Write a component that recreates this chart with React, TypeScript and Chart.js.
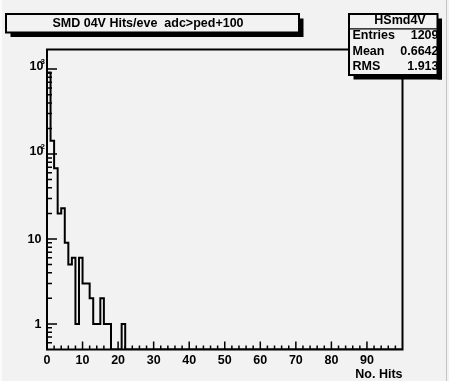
import React, { useEffect, useRef } from "react";
import { Chart, registerables } from "chart.js";

Chart.register(...registerables);

// ---- data ----
const TITLE = "SMD 04V Hits/eve  adc>ped+100";
const HIST_NAME = "HSmd4V";
const STAT_LABELS = ["Entries", "Mean", "RMS"];
const STAT_VALUES = ["1209", "0.6642", "1.913"];
const X_TITLE = "No. Hits";

// bin contents of bins [k, k+1), k = 0..21 ; all higher bins are empty
const HITS_COUNTS = [913, 143, 68, 20, 23, 9, 5, 6, 1, 6, 3, 3, 2, 1, 1, 2, 1, 1, 0, 0, 0, 1];
const BIN_WIDTH = 1;
const X_MIN = 0;
const X_MAX = 100;
const Y_MIN = 0.5;
const Y_MAX = 1700;

const X_TICK_VALUES = [0, 10, 20, 30, 40, 50, 60, 70, 80, 90];
const X_TICK_LABELS = ["0", "10", "20", "30", "40", "50", "60", "70", "80", "90"];
const X_MINOR_STEP = 2;
const Y_TICK_VALUES = [1, 10, 100, 1000];
const Y_TICK_BASES = ["1", "10", "10", "10"];
const Y_TICK_EXPONENTS = ["", "", "2", "3"];

// ---- style ----
const BG = "rgb(242,242,242)";
const FONT = '"Liberation Sans", Arial, Helvetica, sans-serif';
const FS = 12.5;

const rootPlugin = {
  id: "rootStyle",
  beforeDraw(chart: any) {
    const ctx = chart.ctx;
    ctx.save();
    ctx.fillStyle = BG;
    ctx.fillRect(0, 0, chart.width, chart.height);
    ctx.fillStyle = "#fbfbfb";
    ctx.fillRect(0, 0, 2, chart.height);
    ctx.fillStyle = "#c4c4c4";
    ctx.fillRect(446, 0, 1, chart.height);
    ctx.restore();
  },
  afterDatasetsDraw(chart: any) {
    const ctx = chart.ctx;
    const a = chart.chartArea;
    const x = chart.scales.x;
    const y = chart.scales.y;
    ctx.save();

    // frame
    ctx.strokeStyle = "#000";
    ctx.lineWidth = 2;
    ctx.strokeRect(a.left, a.top, a.right - a.left, a.bottom - a.top);

    // x ticks (inside)
    ctx.lineWidth = 1.5;
    ctx.beginPath();
    for (let v = X_MIN; v < X_MAX; v += X_MINOR_STEP) {
      const px = x.getPixelForValue(v);
      const major = X_TICK_VALUES.indexOf(v) >= 0;
      const len = major ? 8 : 4;
      ctx.moveTo(px, a.bottom);
      ctx.lineTo(px, a.bottom - len);
    }
    ctx.stroke();

    // y ticks (inside)
    ctx.beginPath();
    for (let d = 0.1; d < Y_MAX; d *= 10) {
      for (let m = 1; m <= 9; m++) {
        const v = m * d;
        if (v < Y_MIN * 1.0001 || v > Y_MAX) continue;
        const py = y.getPixelForValue(v);
        const len = m === 1 ? 10 : 5;
        ctx.moveTo(a.left, py);
        ctx.lineTo(a.left + len, py);
      }
    }
    ctx.stroke();

    // x labels
    ctx.fillStyle = "#000";
    ctx.font = `bold ${FS}px ${FONT}`;
    ctx.textAlign = "center";
    ctx.textBaseline = "alphabetic";
    X_TICK_VALUES.forEach((v, i) => {
      ctx.fillText(X_TICK_LABELS[i], x.getPixelForValue(v), a.bottom + 14);
    });
    ctx.textAlign = "right";
    ctx.fillText(X_TITLE, a.right, a.bottom + 28);

    // y labels
    Y_TICK_VALUES.forEach((v, i) => {
      const py = y.getPixelForValue(v);
      const exp = Y_TICK_EXPONENTS[i];
      ctx.font = `bold ${FS}px ${FONT}`;
      ctx.textAlign = "right";
      if (exp) {
        ctx.fillText(Y_TICK_BASES[i], a.left - 3.5, py + 0.5);
        ctx.font = `bold 8px ${FONT}`;
        ctx.textAlign = "left";
        ctx.fillText(exp, a.left - 6.5, py - 5);
      } else {
        ctx.fillText(Y_TICK_BASES[i], a.left - 5.5, py + 4.3);
      }
    });

    // title box
    const tb = { x: 6, y: 14, w: 293, h: 18.5 };
    ctx.fillStyle = "#000";
    ctx.fillRect(tb.x + 4.5, tb.y + 4.5, tb.w, tb.h);
    ctx.fillStyle = BG;
    ctx.fillRect(tb.x, tb.y, tb.w, tb.h);
    ctx.lineWidth = 2;
    ctx.strokeStyle = "#000";
    ctx.strokeRect(tb.x, tb.y, tb.w, tb.h);
    ctx.fillStyle = "#000";
    ctx.font = `bold ${FS}px ${FONT}`;
    ctx.textAlign = "center";
    ctx.fillText(TITLE, 148, 27);

    // stats box
    const sb = { x: 349, y: 14, w: 88.5, h: 61 };
    ctx.fillStyle = BG;
    ctx.fillRect(sb.x, sb.y, sb.w, sb.h);
    ctx.fillStyle = "#000";
    ctx.font = `bold ${FS}px ${FONT}`;
    ctx.textAlign = "center";
    ctx.fillText(HIST_NAME, 400, 24);
    STAT_LABELS.forEach((lab, i) => {
      const base = 39 + i * 15.5;
      ctx.textAlign = "left";
      ctx.fillText(lab, sb.x + 3.5, base);
      ctx.textAlign = "right";
      ctx.fillText(STAT_VALUES[i], sb.x + sb.w + 1, base);
    });
    ctx.fillStyle = "#000";
    ctx.fillRect(sb.x + sb.w, sb.y + 4.5, 4.5, sb.h);
    ctx.fillRect(sb.x + 4.5, sb.y + sb.h, sb.w, 4.5);
    ctx.lineWidth = 2;
    ctx.strokeRect(sb.x, sb.y, sb.w, sb.h);
    ctx.lineWidth = 1.2;
    ctx.beginPath();
    ctx.moveTo(sb.x, 28.8);
    ctx.lineTo(sb.x + sb.w, 28.8);
    ctx.stroke();

    ctx.restore();
  },
};

export default function App() {
  const ref = useRef<HTMLCanvasElement | null>(null);

  useEffect(() => {
    const canvas = ref.current;
    if (!canvas) return;
    const points: { x: number; y: number }[] = [{ x: X_MIN, y: Y_MIN }];
    HITS_COUNTS.forEach((c, k) => {
      points.push({ x: X_MIN + k * BIN_WIDTH, y: c > 0 ? c : Y_MIN });
    });
    points.push({ x: X_MIN + HITS_COUNTS.length * BIN_WIDTH, y: Y_MIN });
    points.push({ x: X_MAX, y: Y_MIN });

    const chart = new Chart(canvas, {
      type: "line",
      data: {
        datasets: [
          {
            label: HIST_NAME,
            data: points,
            stepped: true,
            borderColor: "#000",
            borderWidth: 2,
            pointRadius: 0,
            fill: false,
            tension: 0,
          },
        ],
      },
      options: {
        animation: false,
        responsive: false,
        events: [],
        devicePixelRatio: 1,
        layout: { padding: { left: 47, top: 49.5, right: 46.5, bottom: 31.5 } },
        plugins: {
          legend: { display: false },
          tooltip: { enabled: false },
          title: { display: false },
        },
        scales: {
          x: { type: "linear", min: X_MIN, max: X_MAX, display: false, bounds: "data" },
          y: { type: "logarithmic", min: Y_MIN, max: Y_MAX, display: false, bounds: "data" },
        },
      },
      plugins: [rootPlugin],
    } as any);
    return () => chart.destroy();
  }, []);

  return (
    <div style={{ position: "fixed", left: 0, top: 0, width: 449, height: 381, background: BG }}>
      <canvas ref={ref} width={449} height={381} style={{ display: "block", width: 449, height: 381 }} />
    </div>
  );
}
